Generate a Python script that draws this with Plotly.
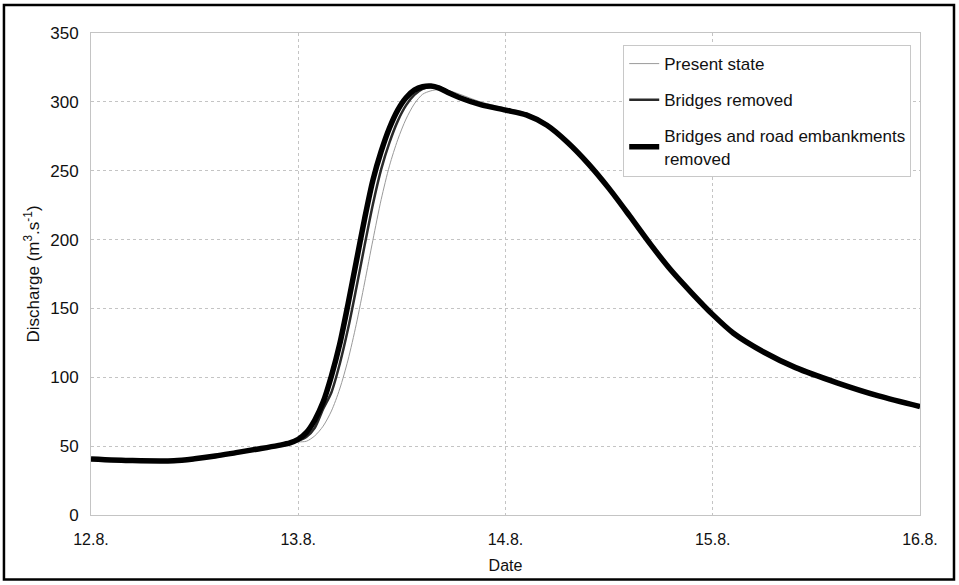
import plotly.graph_objects as go

# time in days after 12.8. 00:00
t = [0, 0.2, 0.4, 0.5, 0.6, 0.7, 0.8, 0.9, 0.96, 1.0, 1.04, 1.08, 1.12, 1.16, 1.2, 1.24,
     1.28, 1.32, 1.36, 1.4, 1.44, 1.48, 1.52, 1.56, 1.6, 1.64, 1.68, 1.72, 1.78, 1.88,
     2.0, 2.1, 2.2, 2.3, 2.4, 2.5, 2.6, 2.7, 2.8, 2.9, 3.0, 3.1, 3.25, 3.4, 3.6, 3.8, 4.0]

present_state = [40.7, 39.5, 39.4, 40.8, 42.8, 45.3, 47.8, 50.4, 52.0, 53.0, 53.6, 57.5, 64.5, 75.5, 91.5, 112.5,
                 138.5, 168.5, 199.5, 229, 253.5, 272.5, 287.5, 298.5, 305.5, 308, 309, 308.5, 305.5, 300,
                 295.5, 292, 284.5, 272, 256.5, 238.5, 218.5, 198, 179, 162.5, 147, 133.5, 118.5, 107, 96, 86.5, 78.8]

bridges_removed = [40.7, 39.5, 39.4, 40.8, 42.8, 45.3, 47.8, 50.4, 52.2, 54, 56.9, 63.4, 77, 89, 109.6, 135,
                   164.6, 195.6, 225.5, 251, 270.4, 286, 297.4, 305, 309.5, 310.8, 310.8, 308, 303.5, 298.5,
                   294.5, 291, 283.5, 271, 255.5, 237.5, 217.5, 197, 178, 161.5, 146, 132.5, 118, 107, 96, 86.5, 78.8]

bridges_embankments_removed = [40.7, 39.5, 39.4, 40.8, 42.8, 45.3, 47.8, 50.4, 52.3, 55, 60, 69, 82, 101, 124, 153,
                               184, 215, 243, 264, 281, 294, 303, 308.5, 311, 311.5, 310, 307, 303, 298,
                               294, 290.5, 283, 270.5, 255, 237, 217, 196.5, 177.5, 161, 145.5, 132, 118, 107, 96, 86.5, 78.8]

tick_vals = [0, 1, 2, 3, 4]
tick_text = ["12.8.", "13.8.", "14.8.", "15.8.", "16.8."]

FONT = "Liberation Sans, Arial, sans-serif"
GRID = "#c4c4c4"

fig = go.Figure()
fig.add_trace(go.Scatter(x=t, y=present_state, mode="lines", name="Present state",
                         legendgroup="a", line=dict(color="#9a9a9a", width=1, shape="spline", smoothing=0.8)))
fig.add_trace(go.Scatter(x=t, y=bridges_removed, mode="lines", name="Bridges removed",
                         legendgroup="b", line=dict(color="#2a2a2a", width=2.5, shape="spline", smoothing=0.8)))
fig.add_trace(go.Scatter(x=t, y=bridges_embankments_removed, mode="lines",
                         name="Bridges and road embankments<br>removed",
                         legendgroup="c", line=dict(color="#000000", width=5.5, shape="spline", smoothing=0.8)))

fig.update_layout(
    width=959, height=585,
    margin=dict(l=91, r=39, t=33, b=70),
    paper_bgcolor="white", plot_bgcolor="white",
    font=dict(family=FONT, size=16, color="#111111"),
    showlegend=True,
    legend=dict(x=0.642, y=0.975, xanchor="left", yanchor="top",
                bgcolor="white", bordercolor="#c8c8c8", borderwidth=1,
                font=dict(size=17, color="#111111"), tracegroupgap=11,
                itemwidth=30),
    xaxis=dict(range=[0, 4], tickvals=tick_vals, ticktext=tick_text,
               showgrid=True, gridcolor=GRID, griddash="dot", gridwidth=1,
               showline=True, linecolor=GRID, linewidth=1, mirror=True,
               zeroline=False, ticks="", ticklabelstandoff=10,
               tickfont=dict(size=16),
               title=dict(text="Date", standoff=12, font=dict(size=16))),
    yaxis=dict(range=[0, 350], tickvals=[0, 50, 100, 150, 200, 250, 300, 350],
               showgrid=True, gridcolor=GRID, griddash="dot", gridwidth=1,
               showline=True, linecolor=GRID, linewidth=1, mirror=True,
               zeroline=False, ticks="", ticklabelstandoff=8,
               tickfont=dict(size=17),
               title=dict(text="Discharge (m<sup>3</sup>.s<sup>-1</sup>)", standoff=6,
                          font=dict(size=17))),
    shapes=[dict(type="rect", xref="paper", yref="paper",
                 x0=-0.105, x1=1.041, y0=-0.134, y1=1.058,
                 line=dict(color="black", width=2.5), fillcolor="rgba(0,0,0,0)", layer="below")],
)

fig.write_html("out.html", config={"displayModeBar": False},
               post_script="document.body.style.margin='0px';")
